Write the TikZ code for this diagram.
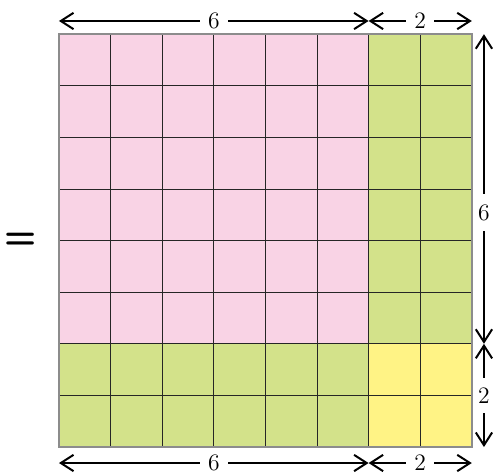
\documentclass[tikz,border=0pt]{standalone}
\usetikzlibrary{arrows.meta}
\begin{document}
\begin{tikzpicture}[%
        <->,
        >={Straight Barb[length=7pt,width=9pt]},
        dimarrow/.style={%
          line width=1.1pt,
          black
        },
        dimlabel/.style={%
          fill=white,
          inner xsep=4.5pt,
          inner ysep=0pt,
          font=\fontsize{13}{15}\selectfont
        },
        vdimlabel/.style={%
          dimlabel,
          inner xsep=1pt,
          inner ysep=5.5pt
        },
        gridline/.style={-,line width=0.5pt,black!85},
        border/.style={-,line width=0.8pt,black!45}
      ]
      \definecolor{pinkcell}{RGB}{249,211,229}
      \definecolor{greencell}{RGB}{211,226,138}
      \definecolor{yellowcell}{RGB}{255,243,133}
      \useasboundingbox (-1.143,-0.504) rectangle (8.469,8.663);

      \fill[pinkcell] (0,2) rectangle (6,8);
      \fill[greencell] (6,2) rectangle (8,8);
      \fill[greencell] (0,0) rectangle (6,2);
      \fill[yellowcell] (6,0) rectangle (8,2);
      \draw[gridline] (0,0) grid (8,8);
      \draw[border] (0,0) rectangle (8,8);

      \coordinate (t0) at (0,8.256);
      \coordinate (t6) at (6,8.256);
      \coordinate (t8) at (8,8.256);
      \coordinate (b0) at (0,-0.31);
      \coordinate (b6) at (6,-0.31);
      \coordinate (b8) at (8,-0.31);
      \coordinate (r8) at (8.236,8);
      \coordinate (r2) at (8.236,2);
      \coordinate (r0) at (8.236,0);

      \draw[dimarrow] (t0) -- node[dimlabel] {6} (t6);
      \draw[dimarrow] (t6) -- node[dimlabel] {2} (t8);
      \draw[dimarrow] (b0) -- node[dimlabel] {6} (b6);
      \draw[dimarrow] (b6) -- node[dimlabel] {2} (b8);
      \draw[dimarrow] (r8) -- node[vdimlabel,pos=0.576] {6} (r2);
      \draw[dimarrow] (r2) -- node[vdimlabel] {2} (r0);

      \node (eq) at (-0.736,4) {\sffamily\bfseries\huge =};
  \end{tikzpicture}
\end{document}
